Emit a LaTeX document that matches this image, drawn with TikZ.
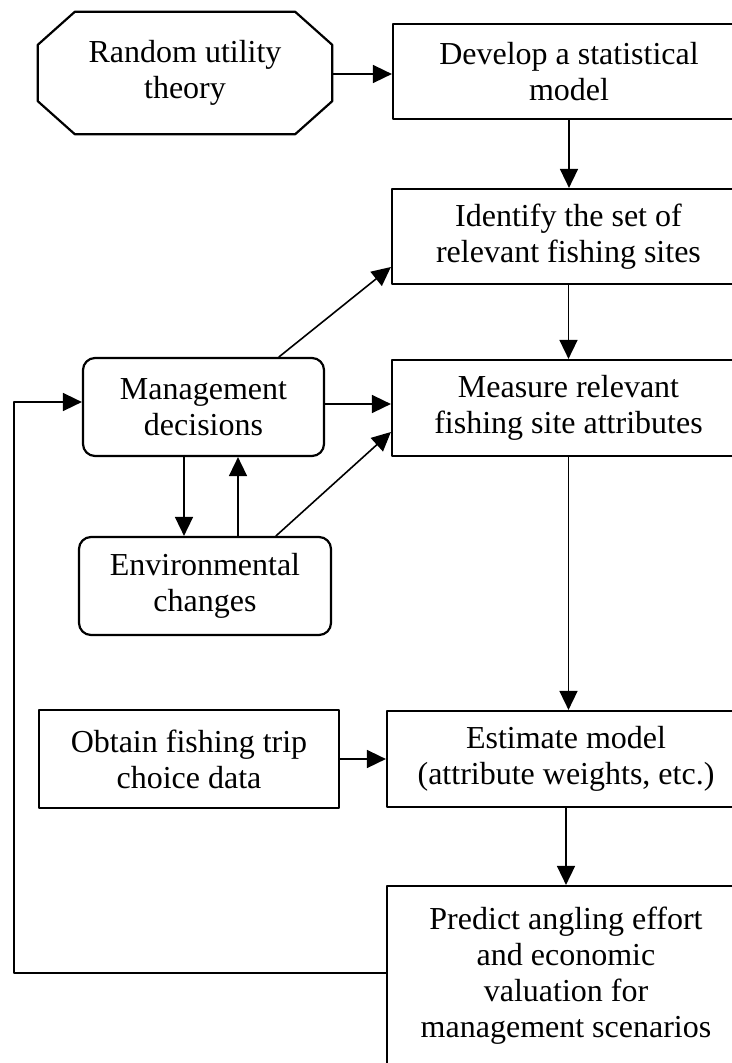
\documentclass[tikz,border=0pt]{standalone}
\usepackage{fontspec}
\setmainfont{Liberation Serif}
\usetikzlibrary{arrows.meta}

\begin{document}
\begin{tikzpicture}[x=1pt, y=-1pt,
    font=\fontsize{32}{36}\selectfont,
    line cap=round, line join=round,
    box/.style={draw, line width=2.2pt, line cap=butt, align=center, inner sep=0pt, minimum height=95pt},
    rbox/.style={box, rounded corners=12pt},
    octbox/.style={align=center, inner sep=0pt, minimum width=294pt, minimum height=122pt},
    arr/.style={-{Triangle[length=19pt, width=18pt]}, line width=1.6pt}]
    \useasboundingbox (0,0) rectangle (731,1063);

    % Colonna di destra
    \node[octbox] (rut) at (185,73) {Random utility\\theory};
    \draw[line width=2.2pt] ([xshift=37pt]rut.north west) -- ([xshift=-37pt]rut.north east)
        -- ([yshift=-33pt]rut.north east) -- ([yshift=33pt]rut.south east)
        -- ([xshift=-37pt]rut.south east) -- ([xshift=37pt]rut.south west)
        -- ([yshift=33pt]rut.south west) -- ([yshift=-33pt]rut.north west) -- cycle;
    \node[box, minimum width=352pt] (dev) at (569,71.5) {Develop a statistical\\model};
    \node[box, minimum width=353pt] (ident) at (568.5,236.5) {Identify the set of\\relevant fishing sites};
    \node[box, minimum width=353pt, minimum height=96pt] (meas) at (568.5,408) {Measure relevant\\fishing site attributes};
    \node[box, minimum width=358pt, minimum height=96pt] (est) at (566,759) {Estimate model\\(attribute weights, etc.)};
    \node[box, minimum width=358pt, minimum height=180pt] (pred) at (566,976)
        {Predict angling effort\\and economic\\valuation for\\management scenarios};

    % Colonna di sinistra
    \node[rbox, minimum width=241pt, minimum height=98pt] (mgmt) at (203.5,407) {Management\\decisions};
    \node[rbox, minimum width=252pt, minimum height=98pt] (env) at (205,586) {Environmental\\changes};
    \node[box, minimum width=300pt, minimum height=98pt] (obt) at (189,759) {Obtain fishing trip\\choice data};
    \coordinate (fbot) at (14,973);
    \coordinate (ftop) at (14,402);

    % Frecce
    \draw[arr] ([yshift=-1pt]rut.east) -- ([yshift=-1pt]rut.east -| dev.west);
    \draw[arr] (dev.south) -- (dev.south |- ident.north);
    \draw[arr] (ident.south) -- (ident.south |- meas.north);
    \draw[arr] (meas.south) -- (meas.south |- est.north);
    \draw[arr] (est.south) -- (est.south |- pred.north);
    \draw[arr] (obt.east) -- (obt.east -| est.west);
    \draw[arr] ([yshift=3pt]mgmt.east) -- ([yshift=3pt]mgmt.east -| meas.west);
    \draw[arr] ([xshift=75.5pt]mgmt.north) -- ([yshift=-30.5pt]ident.west);
    \draw[arr] ([xshift=71pt]env.north) -- ([yshift=-24pt]meas.west);
    \draw[arr] ([xshift=-19.5pt]mgmt.south) -- ([xshift=-19.5pt]mgmt.south |- env.north);
    \draw[arr] ([xshift=33pt]env.north) -- ([xshift=33pt]env.north |- mgmt.south);

    % Retroazione
    \draw[arr] (fbot -| pred.west) -- (fbot) -- (ftop) -- (ftop -| mgmt.west);
\end{tikzpicture}
\end{document}
